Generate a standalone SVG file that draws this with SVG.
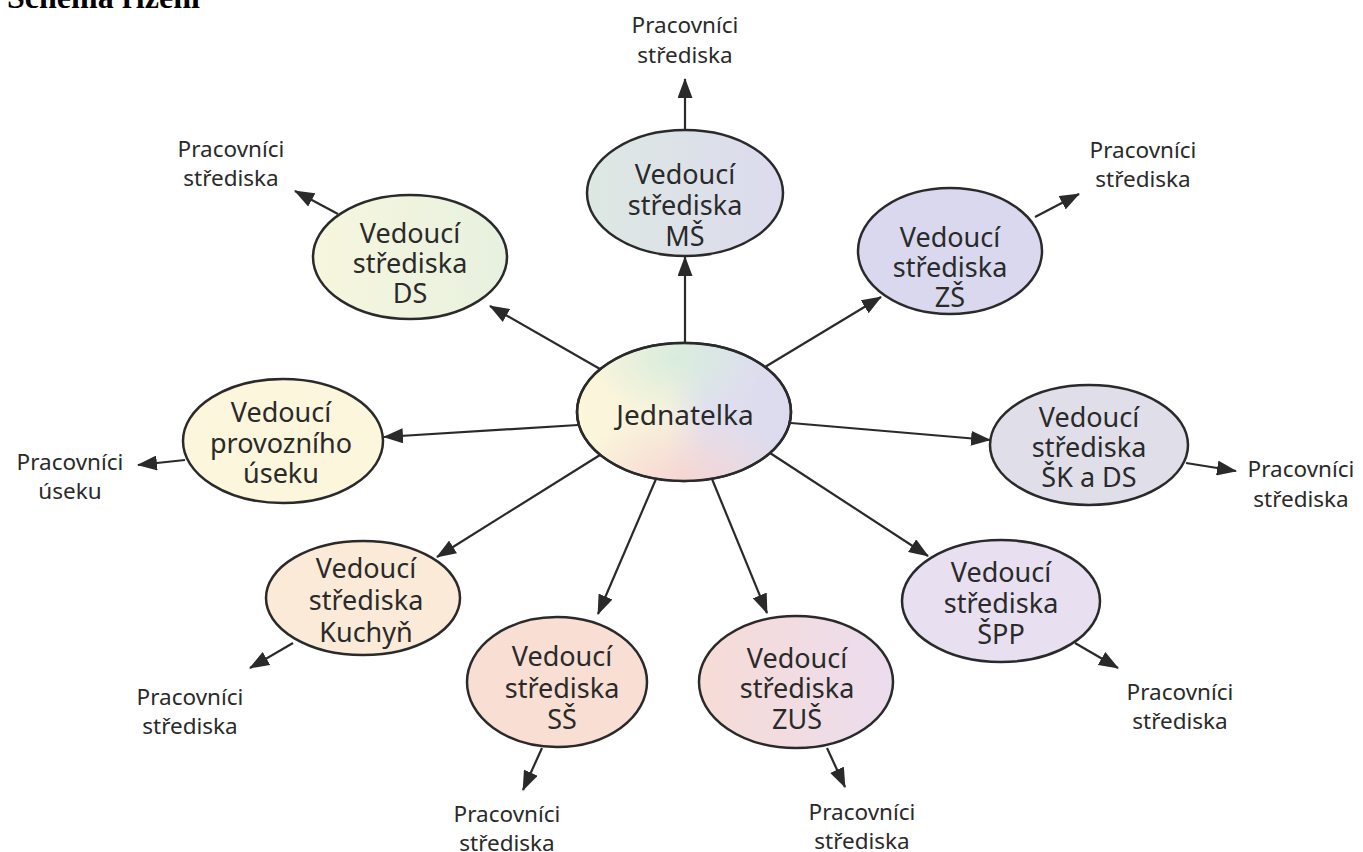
<svg xmlns="http://www.w3.org/2000/svg" width="1363" height="852" viewBox="0 0 1363 852">
<style>
.node{stroke:#2a2a2a;stroke-width:2.5}
.nt{font-family:"Noto Sans",sans-serif;font-size:27px;fill:#2a2a2a;text-anchor:middle}
.lt{font-family:"Noto Sans",sans-serif;font-size:22.5px;fill:#2a2a2a;text-anchor:middle}
.conn line{stroke:#2a2a2a;stroke-width:2.2;marker-end:url(#ah)}
.title{font-family:"Liberation Serif",serif;font-weight:bold;font-size:32px;fill:#000}
</style>
<defs>
<marker id="ah" markerUnits="userSpaceOnUse" markerWidth="20" markerHeight="15" refX="19" refY="7.5" orient="auto">
<path d="M0,0 L20,7.5 L0,15 z" fill="#2a2a2a"/>
</marker>
<linearGradient id="gJ" x1="0" y1="0" x2="1" y2="0">
<stop offset="0" stop-color="#fcf6da"/>
<stop offset="0.42" stop-color="#f7f3dc"/>
<stop offset="0.6" stop-color="#e0e0ef"/>
<stop offset="1" stop-color="#dcdaee"/>
</linearGradient>
<radialGradient id="gJg" cx="0.47" cy="0.1" r="0.42">
<stop offset="0" stop-color="#d6ecdd" stop-opacity="0.95"/>
<stop offset="1" stop-color="#d6ecdd" stop-opacity="0"/>
</radialGradient>
<radialGradient id="gJp" cx="0.5" cy="1" r="0.5">
<stop offset="0" stop-color="#f7d4d2" stop-opacity="0.95"/>
<stop offset="1" stop-color="#f7d4d2" stop-opacity="0"/>
</radialGradient>
<linearGradient id="gMS" x1="0" y1="0" x2="1" y2="0">
<stop offset="0" stop-color="#dde8e2"/>
<stop offset="1" stop-color="#dcdbee"/>
</linearGradient>
<linearGradient id="gDS" x1="0" y1="0" x2="1" y2="0">
<stop offset="0" stop-color="#f7f6de"/>
<stop offset="1" stop-color="#e7f1df"/>
</linearGradient>
<linearGradient id="gZUS" x1="0" y1="0" x2="1" y2="0">
<stop offset="0" stop-color="#f7dcd6"/>
<stop offset="1" stop-color="#ebdcee"/>
</linearGradient>
</defs>

<text class="title" x="7" y="8">Schéma řízení</text>

<g id="connectors" class="conn">
<line x1="685" y1="343" x2="685" y2="257"/>
<line x1="685" y1="130" x2="685" y2="79"/>
<line x1="600" y1="369" x2="490" y2="306"/>
<line x1="338" y1="214" x2="295" y2="191"/>
<line x1="765" y1="367" x2="881" y2="297"/>
<line x1="1035" y1="217" x2="1079" y2="194"/>
<line x1="791" y1="423" x2="990" y2="440"/>
<line x1="1186" y1="463" x2="1236" y2="471"/>
<line x1="770" y1="453" x2="928" y2="556"/>
<line x1="1075" y1="643" x2="1118" y2="668"/>
<line x1="712" y1="479" x2="767" y2="613"/>
<line x1="827" y1="748" x2="845" y2="787"/>
<line x1="656" y1="479" x2="598" y2="614"/>
<line x1="542" y1="748" x2="523" y2="790"/>
<line x1="600" y1="455" x2="437" y2="557"/>
<line x1="293" y1="643" x2="250" y2="668"/>
<line x1="578" y1="425" x2="384" y2="437"/>
<line x1="185" y1="460" x2="138" y2="465"/>
</g>

<g id="jednatelka">
<ellipse class="node" cx="684" cy="412" rx="107" ry="69" fill="url(#gJ)"/>
<ellipse cx="684" cy="412" rx="106" ry="68" fill="url(#gJg)"/>
<ellipse cx="684" cy="412" rx="106" ry="68" fill="url(#gJp)"/>
<ellipse cx="684" cy="412" rx="107" ry="69" fill="none" class="node"/>
<text class="nt" style="font-size:28px" x="685" y="425">Jednatelka</text>
</g>

<g id="ms">
<ellipse class="node" cx="685" cy="193" rx="98" ry="63" fill="url(#gMS)"/>
<text class="nt" x="685" y="184">Vedoucí</text>
<text class="nt" x="685" y="215">střediska</text>
<text class="nt" x="685" y="246">MŠ</text>
</g>

<g id="ds">
<ellipse class="node" cx="410" cy="257" rx="97" ry="62" fill="url(#gDS)"/>
<text class="nt" x="410" y="243">Vedoucí</text>
<text class="nt" x="410" y="273">střediska</text>
<text class="nt" x="410" y="303">DS</text>
</g>

<g id="zs">
<ellipse class="node" cx="950" cy="251" rx="92" ry="63" fill="#d9d8ee"/>
<text class="nt" x="950" y="247">Vedoucí</text>
<text class="nt" x="950" y="277">střediska</text>
<text class="nt" x="950" y="307">ZŠ</text>
</g>

<g id="skds">
<ellipse class="node" cx="1089" cy="445" rx="99" ry="60" fill="#e0dfe9"/>
<text class="nt" x="1089" y="427">Vedoucí</text>
<text class="nt" x="1089" y="457">střediska</text>
<text class="nt" x="1089" y="487">ŠK a DS</text>
</g>

<g id="spp">
<ellipse class="node" cx="1001" cy="601" rx="99" ry="61" fill="#e8dff0"/>
<text class="nt" x="1001" y="582">Vedoucí</text>
<text class="nt" x="1001" y="613">střediska</text>
<text class="nt" x="1001" y="644">ŠPP</text>
</g>

<g id="zus">
<ellipse class="node" cx="796" cy="682" rx="97" ry="66" fill="url(#gZUS)"/>
<text class="nt" x="797" y="668">Vedoucí</text>
<text class="nt" x="797" y="698">střediska</text>
<text class="nt" x="797" y="729">ZUŠ</text>
</g>

<g id="ss">
<ellipse class="node" cx="557" cy="682" rx="90" ry="65" fill="#f8ded3"/>
<text class="nt" x="562" y="666">Vedoucí</text>
<text class="nt" x="562" y="698">střediska</text>
<text class="nt" x="562" y="729">SŠ</text>
</g>

<g id="kuchyn">
<ellipse class="node" cx="363" cy="598" rx="97" ry="57" fill="#fbead8"/>
<text class="nt" x="366" y="578">Vedoucí</text>
<text class="nt" x="366" y="610">střediska</text>
<text class="nt" x="366" y="642">Kuchyň</text>
</g>

<g id="provozni">
<ellipse class="node" cx="283" cy="441" rx="100" ry="62" fill="#fcf6dc"/>
<text class="nt" x="281" y="422">Vedoucí</text>
<text class="nt" x="281" y="453">provozního</text>
<text class="nt" x="281" y="483">úseku</text>
</g>

<g id="lbl-ms">
<text class="lt" x="685" y="33">Pracovníci</text>
<text class="lt" x="685" y="63">střediska</text>
</g>
<g id="lbl-ds">
<text class="lt" x="231" y="157">Pracovníci</text>
<text class="lt" x="231" y="186">střediska</text>
</g>
<g id="lbl-zs">
<text class="lt" x="1143" y="158">Pracovníci</text>
<text class="lt" x="1143" y="187">střediska</text>
</g>
<g id="lbl-provozni">
<text class="lt" x="70" y="470">Pracovníci</text>
<text class="lt" x="70" y="499">úseku</text>
</g>
<g id="lbl-skds">
<text class="lt" x="1301" y="477">Pracovníci</text>
<text class="lt" x="1301" y="507">střediska</text>
</g>
<g id="lbl-spp">
<text class="lt" x="1180" y="700">Pracovníci</text>
<text class="lt" x="1180" y="729">střediska</text>
</g>
<g id="lbl-zus">
<text class="lt" x="862" y="820">Pracovníci</text>
<text class="lt" x="862" y="849">střediska</text>
</g>
<g id="lbl-ss">
<text class="lt" x="507" y="822">Pracovníci</text>
<text class="lt" x="507" y="851">střediska</text>
</g>
<g id="lbl-kuchyn">
<text class="lt" x="190" y="705">Pracovníci</text>
<text class="lt" x="190" y="734">střediska</text>
</g>
</svg>
